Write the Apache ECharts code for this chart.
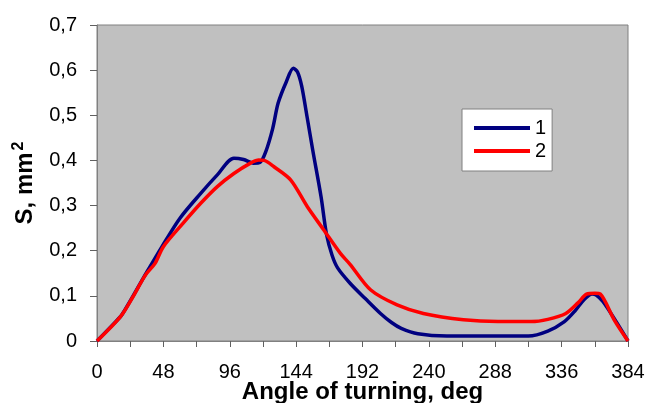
<!DOCTYPE html>
<html>
<head>
<meta charset="utf-8">
<script src="https://cdn.jsdelivr.net/npm/echarts@6/dist/echarts.min.js"></script>
<style>
  html, body { margin: 0; padding: 0; background: #fff; }
  #chart { width: 648px; height: 403px; }
</style>
</head>
<body>
<div id="chart"></div>
<script>
// curve 1 (blue)
const angles1 = [0, 12, 18, 34, 47, 60, 75, 87, 99, 106, 113, 118, 122, 127, 131, 137, 142, 145, 148, 152, 156, 162, 166, 170, 174, 183, 194, 205, 213, 220, 232, 253, 280, 312, 326, 338, 346, 352, 358, 361, 366, 375, 384];
const s1 = [0, 0.038, 0.058, 0.142, 0.209, 0.272, 0.327, 0.368, 0.405, 0.402, 0.394, 0.396, 0.419, 0.47, 0.527, 0.575, 0.604, 0.596, 0.565, 0.495, 0.423, 0.32, 0.236, 0.19, 0.162, 0.128, 0.094, 0.061, 0.041, 0.028, 0.016, 0.011, 0.011, 0.011, 0.022, 0.043, 0.068, 0.091, 0.104, 0.102, 0.087, 0.045, 0];

// curve 2 (red)
const angles2 = [0, 17, 26, 35, 42, 48, 62, 75, 87, 99, 111, 117, 121, 128, 140, 152, 164, 176, 183, 198, 217, 236, 265, 290, 314, 326, 339, 348, 354, 360, 364, 374, 384];
const s2 = [0, 0.054, 0.098, 0.146, 0.172, 0.209, 0.26, 0.305, 0.342, 0.371, 0.394, 0.401, 0.4, 0.386, 0.357, 0.298, 0.246, 0.194, 0.17, 0.113, 0.08, 0.061, 0.047, 0.043, 0.043, 0.048, 0.061, 0.085, 0.104, 0.106, 0.104, 0.047, 0];

const seriesNames = ['1', '2'];
const seriesColors = ['#000080', '#ff0000'];

const font = 'Liberation Sans, Arial, sans-serif';
const chart = echarts.init(document.getElementById('chart'));

const pairs = (xs, ys) => xs.map((x, i) => [x, ys[i]]);

chart.setOption({
  animation: false,
  backgroundColor: '#fff',
  grid: {
    left: 97, right: 20, top: 25, bottom: 62,
    outerBoundsMode: 'none',
    show: true,
    backgroundColor: '#c0c0c0',
    borderColor: '#808080',
    borderWidth: 1
  },
  legend: {
    data: seriesNames,
    orient: 'vertical',
    left: 462, top: 109,
    padding: [9, 6, 10, 12],
    backgroundColor: '#fff',
    borderColor: '#808080',
    borderWidth: 1,
    icon: 'rect',
    itemWidth: 56,
    itemHeight: 4,
    itemGap: 3,
    textStyle: { fontFamily: font, fontSize: 20, color: '#000' }
  },
  xAxis: {
    type: 'value',
    min: 0, max: 384, interval: 48,
    name: 'Angle of turning, deg',
    nameLocation: 'middle',
    nameGap: 39,
    nameMoveOverlap: false,
    nameTextStyle: { fontFamily: font, fontSize: 24, fontWeight: 'bold', color: '#000' },
    axisLine: { show: true, lineStyle: { color: '#808080', width: 1 } },
    axisTick: { show: true, length: 6, lineStyle: { color: '#606060' } },
    minorTick: { show: true, splitNumber: 2, length: 6, lineStyle: { color: '#606060' } },
    splitLine: { show: false },
    axisLabel: { margin: 21, fontFamily: font, fontSize: 20, color: '#000' }
  },
  yAxis: {
    type: 'value',
    min: 0, max: 0.7, interval: 0.1,
    name: '{a|S, mm}{b|2}',
    nameLocation: 'middle',
    nameGap: 58,
    nameMoveOverlap: false,
    nameTextStyle: {
      fontFamily: font, fontWeight: 'bold', color: '#000',
      rich: {
        a: { fontFamily: font, fontSize: 24, fontWeight: 'bold', color: '#000', lineHeight: 28 },
        b: { fontFamily: font, fontSize: 16, fontWeight: 'bold', color: '#000', lineHeight: 28, verticalAlign: 'top', padding: [0, 0, 0, 2] }
      }
    },
    axisLine: { show: true, lineStyle: { color: '#808080', width: 1 } },
    axisTick: { show: true, length: 7, lineStyle: { color: '#606060' } },
    splitLine: { show: false },
    axisLabel: {
      margin: 20, fontFamily: font, fontSize: 20, color: '#000',
      formatter: v => (Math.round(v * 10) / 10).toString().replace('.', ',')
    }
  },
  series: [
    {
      name: seriesNames[0], type: 'line', data: pairs(angles1, s1),
      smooth: 0.3, symbol: 'none',
      itemStyle: { color: seriesColors[0] },
      lineStyle: { color: seriesColors[0], width: 3.5 }
    },
    {
      name: seriesNames[1], type: 'line', data: pairs(angles2, s2),
      smooth: 0.3, symbol: 'none',
      itemStyle: { color: seriesColors[1] },
      lineStyle: { color: seriesColors[1], width: 3.5 }
    }
  ]
});
</script>
</body>
</html>
